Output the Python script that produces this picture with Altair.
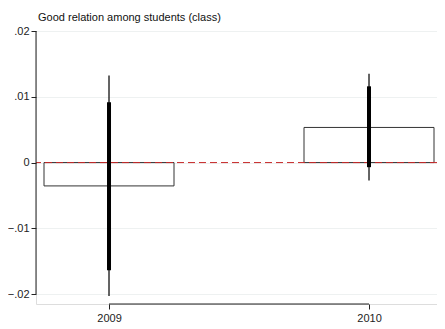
import altair as alt
import pandas as pd

# ---- data ----
years = [2009, 2010]
coef = [-0.00355, 0.00534]
ci_inner_lo = [-0.01636, -0.0007]
ci_inner_hi = [0.00915, 0.01159]
ci_outer_lo = [-0.0203, -0.00274]
ci_outer_hi = [0.01322, 0.01352]
y_ticks = [-0.02, -0.01, 0, 0.01, 0.02]
title_text = "Good relation among students (class)"

df = pd.DataFrame({
    "year": years, "coef": coef,
    "lo90": ci_inner_lo, "hi90": ci_inner_hi,
    "lo95": ci_outer_lo, "hi95": ci_outer_hi,
})

HALF = 0.25
W, H = 401, 273
FONT = "Liberation Sans"

xs = alt.Scale(domain=[2008.7192, 2010.2615], nice=False, zero=False)
ys = alt.Scale(domain=[-0.0215, 0.02], nice=False, zero=False)

base = alt.Chart(df)

axis_layer = base.mark_point(opacity=0).encode(
    x=alt.X("year:Q", scale=xs,
            axis=alt.Axis(values=years, format="d", title=None, domain=False,
                          grid=False, tickSize=5, tickColor="#222",
                          labelFont=FONT, labelFontSize=11, labelColor="#222",
                          labelPadding=3)),
    y=alt.Y("coef:Q", scale=ys,
            axis=alt.Axis(values=y_ticks, title=None, domain=False, grid=True,
                          gridColor="#eef1f1", gridWidth=1, tickSize=5,
                          tickColor="#222", labelFont=FONT, labelFontSize=11,
                          labelColor="#222", labelPadding=2,
                          labelExpr="datum.value == 0 ? '0' : replace(format(datum.value, '.2f'), '0.', '.')")),
)

bars = base.transform_calculate(
    x0=f"datum.year - {HALF}", x1=f"datum.year + {HALF}", zero="0"
).mark_rect(fill="white", fillOpacity=0, stroke="#333", strokeWidth=1).encode(
    x=alt.X("x0:Q", scale=xs),
    x2="x1:Q",
    y=alt.Y("zero:Q", scale=ys),
    y2="coef:Q",
)

zero_line = alt.Chart(pd.DataFrame({"v": [0]})).mark_rule(
    color="#c62828", strokeDash=[7, 4], strokeWidth=1
).encode(y=alt.Y("v:Q", scale=ys))

ci_outer = base.mark_rule(color="#111", strokeWidth=1.3).encode(
    x=alt.X("year:Q", scale=xs), y=alt.Y("lo95:Q", scale=ys), y2="hi95:Q")
ci_inner = base.mark_rule(color="#000", strokeWidth=4).encode(
    x=alt.X("year:Q", scale=xs), y=alt.Y("lo90:Q", scale=ys), y2="hi90:Q")

yaxis_line = alt.Chart(pd.DataFrame({"a": [y_ticks[0]], "b": [y_ticks[-1]]})).mark_rule(
    color="#222", strokeWidth=1).encode(
    x=alt.value(0), y=alt.Y("a:Q", scale=ys), y2="b:Q")
xaxis_line = alt.Chart(pd.DataFrame({"a": [years[0]], "b": [years[-1]]})).mark_rule(
    color="#222", strokeWidth=1).encode(
    y=alt.value(H), x=alt.X("a:Q", scale=xs), x2="b:Q")

chart = alt.layer(axis_layer, bars, zero_line, ci_outer, ci_inner, yaxis_line, xaxis_line).properties(
    width=W, height=H,
    title=alt.TitleParams(title_text, anchor="start", frame="group", font=FONT,
                          fontSize=11, fontWeight="normal", color="#111",
                          offset=2, dx=2),
    autosize=alt.AutoSizeParams(type="none"),
    padding={"left": 28, "top": 23, "right": 0, "bottom": 20},
).configure_view(stroke=None, clip=False).configure(background="white")

chart.save("out.html", embed_options={"renderer": "svg", "actions": False})
